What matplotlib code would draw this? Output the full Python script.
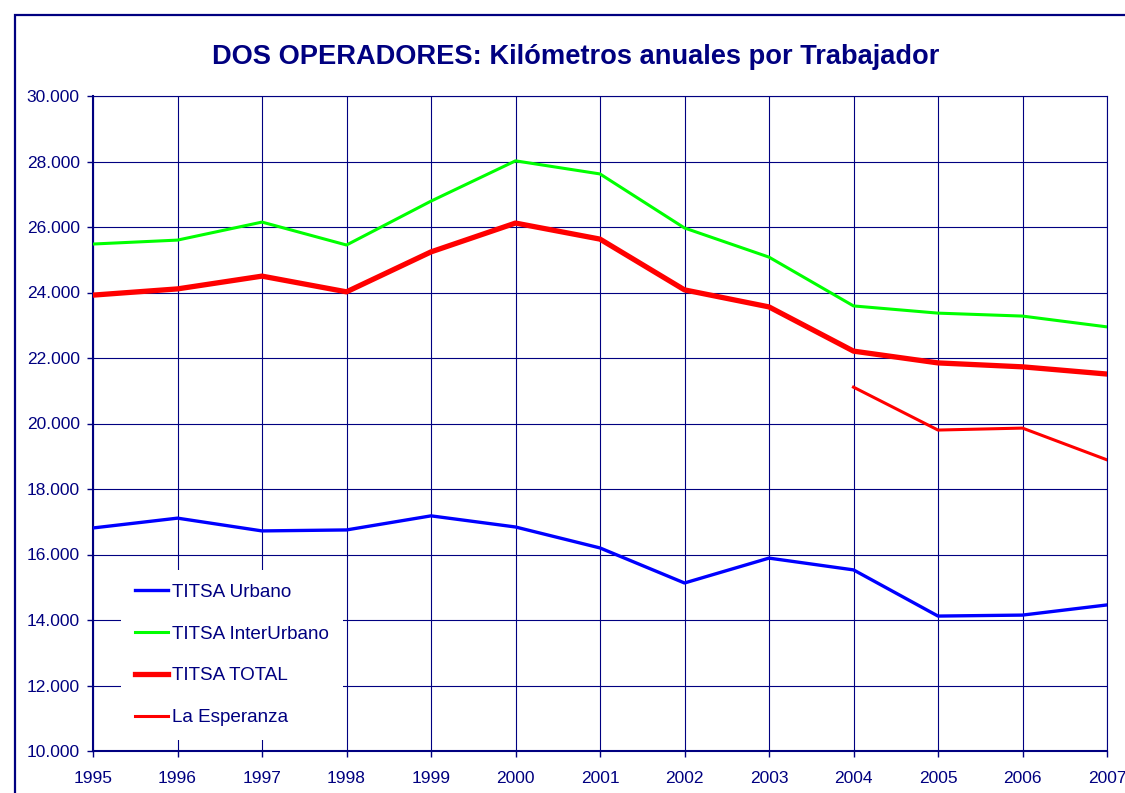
import numpy as np
import matplotlib.pyplot as plt
from matplotlib.patches import Rectangle
from matplotlib.ticker import FuncFormatter, MultipleLocator

plt.rcParams['font.family'] = ['Liberation Sans', 'DejaVu Sans']

NAVY = '#000080'

# Data (km per worker per year)
years = list(range(1995, 2008))
urbano = [16810, 17110, 16720, 16750, 17180, 16840, 16200, 15130, 15890, 15530, 14120, 14150, 14460]
interurbano = [25480, 25600, 26150, 25450, 26790, 28020, 27620, 25970, 25080, 23590, 23370, 23280, 22950]
total = [23920, 24110, 24500, 24020, 25240, 26120, 25630, 24080, 23560, 22210, 21850, 21730, 21510]
esperanza_years = [2004, 2005, 2006, 2007]
esperanza = [21110, 19800, 19860, 18890]

fig = plt.figure(figsize=(11.25, 7.93), dpi=100)
ax = fig.add_axes([93 / 1125, 1 - 751 / 793, (1107 - 93) / 1125, (751 - 96) / 793])

# outer chart border (runs off the right and bottom of the image)
fig.patches.append(Rectangle((15 / 1125, -0.2), 1.2, 1.2 - 15 / 793,
                             transform=fig.transFigure, fill=False,
                             edgecolor=NAVY, linewidth=1.6, zorder=0))

ax.plot(years, urbano, color='#0000FF', lw=2.4, label='TITSA Urbano', zorder=3)
ax.plot(years, interurbano, color='#00FF00', lw=2.2, label='TITSA InterUrbano', zorder=3)
ax.plot(years, total, color='#FF0000', lw=3.8, label='TITSA TOTAL', zorder=3)
ax.plot(esperanza_years, esperanza, color='#FF0000', lw=2.2, label='La Esperanza', zorder=3)

ax.set_xlim(1995, 2007)
ax.set_ylim(10000, 30000)
ax.xaxis.set_major_locator(MultipleLocator(1))
ax.yaxis.set_major_locator(MultipleLocator(2000))
ax.yaxis.set_major_formatter(FuncFormatter(lambda v, p: f'{int(v):,}'.replace(',', '.')))

ax.grid(True, color=NAVY, lw=0.8)
ax.set_axisbelow(True)
for side in ['top', 'right']:
    ax.spines[side].set_color(NAVY)
    ax.spines[side].set_linewidth(0.8)
for side in ['left', 'bottom']:
    ax.spines[side].set_color(NAVY)
    ax.spines[side].set_linewidth(1.5)

ax.tick_params(axis='both', colors=NAVY, labelcolor=NAVY, labelsize=12.5,
               length=4.5, width=1.0, direction='out')
ax.tick_params(axis='x', pad=10)
ax.tick_params(axis='y', pad=5)

fig.text(576 / 1125, 1 - 57 / 793, 'DOS OPERADORES: Kilómetros anuales por Trabajador',
         ha='center', va='center', fontsize=19.6, fontweight='bold', color=NAVY)

leg = ax.legend(loc='upper left', bbox_to_anchor=(28 / 1014, (751 - 570) / 655),
                frameon=True, fancybox=False, facecolor='white', edgecolor='none',
                framealpha=1, fontsize=13.6, handlelength=1.75, handletextpad=0.25,
                labelspacing=1.3, borderpad=0.72, borderaxespad=0)
for t in leg.get_texts():
    t.set_color(NAVY)
leg.set_zorder(5)

fig.savefig('out.png', dpi=100)
